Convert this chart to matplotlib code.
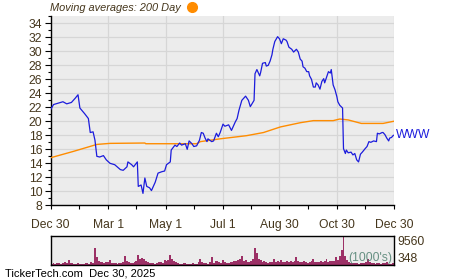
import numpy as np
import pandas as pd
import matplotlib
matplotlib.use("Agg")
from matplotlib import pyplot as plt
from matplotlib.lines import Line2D
from matplotlib.ticker import MultipleLocator

plt.rcParams['font.family'] = ['Liberation Sans', 'DejaVu Sans']

START = pd.Timestamp('2024-12-30')
TICK_DATES = ['2024-12-30', '2025-03-01', '2025-05-01', '2025-07-01',
              '2025-08-30', '2025-10-30', '2025-12-30']
TICK_LABELS = ['Dec 30', 'Mar 1', 'May 1', 'Jul 1', 'Aug 30', 'Oct 30', 'Dec 30']
MINOR_DATES = ['2025-01-29', '2025-03-31', '2025-05-31', '2025-07-31',
               '2025-09-29', '2025-11-29']

# closing price, days since Dec 30
price_days = [0, 3, 8, 13, 17, 22, 26, 29, 31, 36, 40, 42, 45, 47, 49, 52, 56, 59,
              63, 68, 74, 77, 81, 82, 86, 88, 92, 93, 96, 98, 100, 102, 105, 107,
              111, 114, 118, 121, 123, 127, 128, 132, 134, 137, 139, 143, 145, 147,
              150, 152, 155, 158, 160, 162, 164, 166, 167, 171, 173, 176, 178, 180,
              183, 185, 189, 192, 196, 198, 200, 203, 207, 210, 212, 216, 217, 219,
              222, 223, 225, 228, 229, 231, 233, 235, 236, 238, 241, 243, 245, 247,
              250, 251, 253, 256, 258, 261, 263, 265, 267, 268, 270, 272, 274, 275,
              277, 279, 281, 282, 284, 286, 288, 290, 291, 293, 295, 297, 298, 300,
              302, 304, 305, 307, 310, 311, 313, 314, 316, 319, 321, 323, 325, 327,
              329, 331, 334, 336, 338, 340, 343, 346, 347, 349, 352, 353, 355, 357,
              359, 360, 362, 364]
price_vals = [21.7, 22.4, 22.6, 22.8, 22.5, 22.7, 23.3, 23.8, 21.9, 21.1, 20.4, 18.4,
              18.5, 17.3, 15.0, 14.9, 15.1, 14.5, 14.0, 13.8, 13.1, 13.0, 13.5, 14.2,
              13.8, 13.5, 14.2, 10.7, 10.9, 9.7, 11.9, 10.7, 10.5, 10.1, 11.3, 12.6,
              12.8, 12.9, 13.8, 14.2, 15.9, 16.6, 16.4, 16.9, 16.6, 16.8, 16.0, 17.2,
              16.8, 16.4, 16.5, 17.3, 18.4, 18.3, 17.6, 17.1, 17.5, 17.1, 17.2, 18.3,
              17.8, 18.4, 19.6, 19.3, 19.5, 18.7, 19.9, 20.4, 21.6, 23.0, 23.6, 23.0,
              22.1, 23.0, 26.8, 27.4, 26.5, 27.0, 28.3, 28.4, 27.9, 28.0, 28.6, 29.5,
              30.3, 31.4, 32.1, 31.8, 31.1, 31.8, 31.6, 31.4, 30.6, 30.3, 29.9, 30.3,
              29.9, 28.9, 28.6, 27.8, 27.6, 27.1, 27.1, 26.5, 26.0, 24.9, 24.9, 25.5,
              25.2, 24.6, 25.7, 26.1, 25.5, 26.3, 27.1, 26.9, 27.4, 25.2, 24.5, 23.5,
              22.8, 22.3, 21.9, 16.1, 15.4, 15.9, 15.5, 15.6, 15.2, 15.4, 14.5, 14.2,
              15.3, 15.6, 16.1, 16.4, 17.1, 17.0, 17.2, 17.1, 18.3, 18.2, 18.4, 18.4,
              18.1, 17.6, 17.2, 17.6, 17.7, 18.0]

# 200 day moving average
ma_days = [0, 24, 49, 63, 100, 101, 155, 159, 180, 208, 226, 244, 265, 279, 300,
           307, 316, 330, 353, 364]
ma_vals = [14.8, 15.7, 16.7, 16.85, 16.9, 16.8, 16.8, 17.1, 17.5, 17.95, 18.4, 19.2,
           19.8, 20.1, 20.1, 20.33, 20.2, 19.7, 19.7, 20.0]

# volume in 1000's, one bar per two days
volume = [700, 900, 600, 1000, 1100, 800, 900, 1200, 1000,
          1900,
          1100, 900, 800, 600, 1000, 700, 600, 800, 1100, 900, 800, 1200, 1000,
          5800, 2800, 1500,
          1300, 1200, 1000, 1400, 1200, 1900, 1100, 900, 1000, 800, 1000, 900, 1200,
          3300, 1500,
          1200, 900, 1100, 1300, 1500,
          3700, 2400, 2500, 2400, 1500,
          1200, 1000, 900, 1000, 800, 900, 1300, 1200, 1100,
          1900, 1700, 1900,
          3700, 2400, 1600, 1200, 900,
          800, 700, 900, 1000, 700, 800, 600, 900, 800, 700, 1300,
          2200, 1300, 1100, 900,
          800, 1200,
          2800, 1000, 1500, 1600, 1200,
          900, 1900, 1200, 900, 1100, 1300, 1400, 1500, 1700,
          1900, 2300, 3100,
          1600, 2000,
          1300, 1200, 1500,
          2400, 5800, 4200, 2200, 1800, 1400,
          1500, 1300, 1100, 1400, 1200,
          2200, 1400, 1500, 1300, 1900, 1300,
          1300, 1500, 1200, 1700, 1400, 1600,
          2800, 1500, 1300,
          1200, 1600, 1400, 1100, 1300, 1500,
          2200, 1300, 1400, 1200, 1600, 1300, 1500,
          2200, 1400, 1600, 1700, 1500,
          2800, 2000, 3300, 5000, 9560, 3300, 2000,
          1200, 1000, 1100, 900, 1000, 800, 900, 1100, 1000,
          1400, 2200, 1200,
          900, 1000, 800, 1100, 900, 800, 1000, 900, 1200, 800, 700, 900, 1000]

TEXT = '#45361c'
BG = '#ececec'

price_dates = START + pd.to_timedelta(price_days, unit='D')
ma_dates = START + pd.to_timedelta(ma_days, unit='D')
vol_dates = START + pd.to_timedelta(np.arange(len(volume)) * 2, unit='D')
x0, x1 = pd.Timestamp(TICK_DATES[0]), pd.Timestamp(TICK_DATES[-1])

fig = plt.figure(figsize=(4.5, 2.8), dpi=100)
ax = fig.add_axes([0.1127, 0.2668, 0.7636, 0.6772])
ax.set_facecolor(BG)
ax.plot(ma_dates, ma_vals, color='#ff8c00', lw=1.0, zorder=3)
ax.plot(price_dates, price_vals, color='#1c1cdc', lw=0.9, zorder=4)
ax.set_xlim(x0, x1)
ax.set_ylim(8, 35.1)
ax.yaxis.set_major_locator(MultipleLocator(2))
ax.yaxis.set_minor_locator(MultipleLocator(1))
ax.set_xticks(pd.to_datetime(TICK_DATES))
ax.set_xticklabels(TICK_LABELS)
ax.set_xticks(pd.to_datetime(MINOR_DATES), minor=True)
ax.grid(True, which='major', color='#d6d6d6', lw=0.9)
for s in ['top', 'right']:
    ax.spines[s].set_visible(False)
for s in ['left', 'bottom']:
    ax.spines[s].set_color('black')
    ax.spines[s].set_linewidth(1.0)
ax.tick_params(which='both', colors='black', labelcolor=TEXT, labelsize=8.7, width=0.8)
ax.tick_params(axis='y', which='major', length=4, pad=2)
ax.tick_params(axis='y', which='minor', length=2.5)
ax.tick_params(axis='x', which='both', length=3, pad=7)
ax.text(1.005, price_vals[-1], 'WWW', transform=ax.get_yaxis_transform(),
        color='#1c1cdc', fontsize=8.7, va='center', ha='left')

fig.text(0.111, 0.972, 'Moving averages: 200 Day', fontsize=7.9, style='italic',
         color=TEXT, va='center', ha='left')
fig.add_artist(Line2D([0.427], [0.974], marker='o', markersize=7, lw=0,
                      color='#ff8c00', transform=fig.transFigure))

vax = fig.add_axes([0.1127, 0.0536, 0.7636, 0.1025])
vax.set_facecolor(BG)
vax.bar(vol_dates, volume, width=2.0, color='#9c3066', align='edge', lw=0)
vax.set_xlim(x0, x1)
vax.set_ylim(348, 9560)
vax.set_xticks([])
vax.set_yticks([])
for s in vax.spines.values():
    s.set_color('black')
    s.set_linewidth(1.0)
vax.text(1.01, 1.0, '9560', transform=vax.transAxes, fontsize=8.7, color=TEXT,
         va='top', ha='left')
vax.text(1.01, 0.0, '348', transform=vax.transAxes, fontsize=8.7, color=TEXT,
         va='bottom', ha='left')
vax.text(0.995, 0.05, "(1000's)", transform=vax.transAxes, fontsize=8.7,
         color='#4f8070', alpha=0.85, va='bottom', ha='right')

fig.text(0.012, 0.022, 'TickerTech.com  Dec 30, 2025', fontsize=8, color='black',
         va='center', ha='left')

fig.savefig('out.png', dpi=100)
